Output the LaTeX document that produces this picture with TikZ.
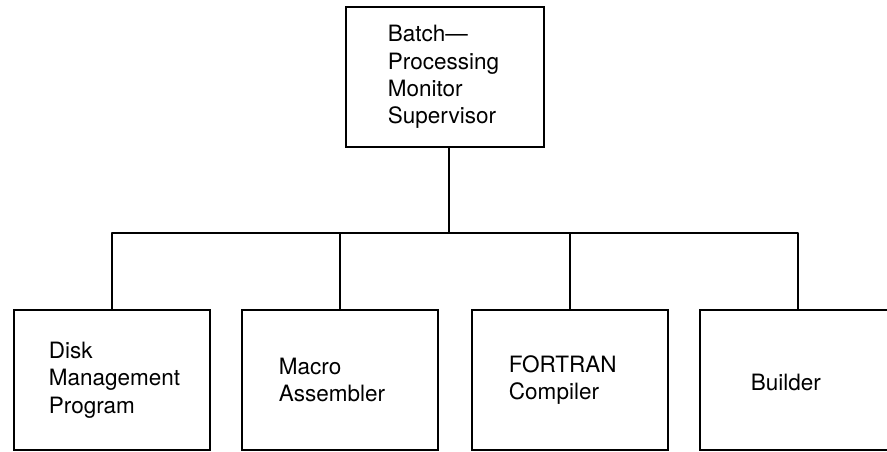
\documentclass[tikz,border=0pt]{standalone}
\usepackage{fontspec}
\setmainfont{TeX Gyre Heros}
\begin{document}
\begin{tikzpicture}[x=1pt,y=-1pt,
  box/.style={draw, line width=2.6pt, rectangle, minimum width=196pt, minimum height=140pt, inner sep=0pt},
  label text/.style={anchor=west, align=left, inner sep=0pt,
    font=\fontsize{22.5pt}{27.3pt}\selectfont},
  wire/.style={line width=2.6pt, line join=round}]
  \useasboundingbox (0,0) rectangle (887,451);
  \clip (0,0) rectangle (887,451);

  % supervisor at the top
  \node[box, minimum width=198pt] (top) at (445,77) {};
  \node[label text] (toptext) at ([xshift=43pt]top.west) {Batch---\\Processing\\Monitor\\Supervisor};

  % the four programs below it
  \node[box] (disk) at (112,380) {};
  \node[box] (macro) at (340,380) {};
  \node[box] (fortran) at (570,380) {};
  \node[box] (builder) at (798,380) {};

  \node[label text] (disktext) at ([xshift=36pt]disk.west) {Disk\\Management\\Program};
  \node[label text] (macrotext) at ([xshift=38pt]macro.west) {Macro\\Assembler};
  \node[label text] (fortrantext) at ([xshift=38pt]fortran.west) {FORTRAN\\Compiler};
  \node[label text] (buildertext) at ([xshift=52pt,yshift=-2pt]builder.west) {Builder};

  % branching connectors
  \coordinate (drop) at ([xshift=4pt]top.south);
  \coordinate (bus) at (449,233);
  \draw[wire] (drop) -- (bus);
  \draw[wire] (disk.north) |- (bus) -| (builder.north);
  \draw[wire] (macro.north) -- (macro.north |- bus);
  \draw[wire] (fortran.north) -- (fortran.north |- bus);
\end{tikzpicture}
\end{document}
